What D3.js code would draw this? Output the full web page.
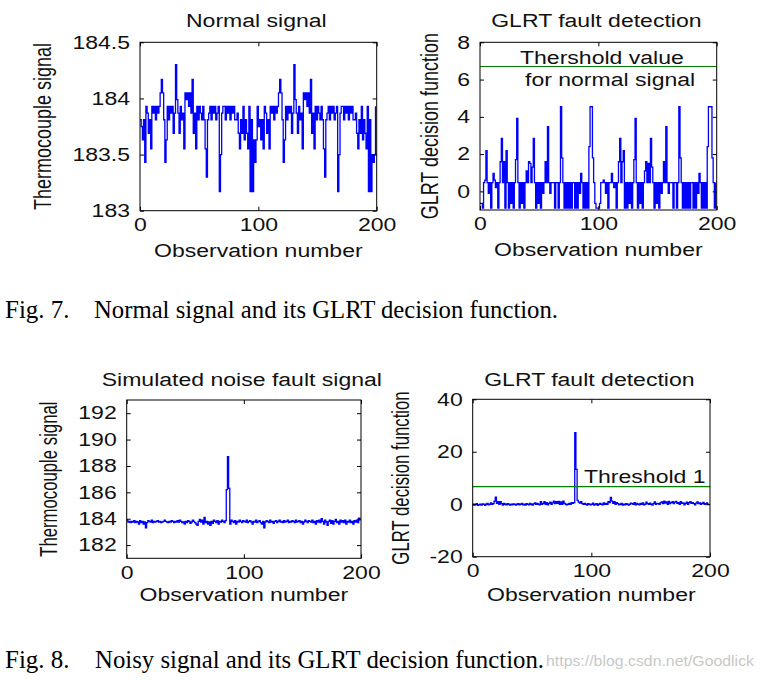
<!DOCTYPE html>
<html><head><meta charset="utf-8">
<script src="https://cdn.jsdelivr.net/npm/d3@7"></script>
<style>body{margin:0;background:#fff}</style>
</head><body>
<svg id="c" width="760" height="680"></svg>
<script>
// ---------------- data ----------------
const xTicks = [0, 100, 200];
const xDomain = [0, 200];

const normalYTicks = [183, 183.5, 184, 184.5];
const normalYDomain = [183, 184.5];
const normalSignal = [
183.81,183.75,183.63,183.81,183.43,183.93,183.87,183.69,183.81,183.55,
183.93,183.87,183.93,183.81,183.93,183.87,183.93,184.05,184.17,184.05,
183.81,183.43,183.63,183.93,183.81,183.93,183.87,183.93,183.69,183.87,
184.30,183.99,183.87,183.69,183.93,183.81,183.87,183.55,184.05,183.99,
184.05,183.93,184.05,183.87,184.17,183.69,183.87,183.55,183.93,183.81,
183.93,183.87,183.81,183.93,183.81,183.55,183.30,183.81,183.87,183.93,
183.81,183.93,183.87,183.93,183.81,183.87,183.93,183.17,183.50,183.87,
183.93,183.93,183.81,183.93,183.87,183.93,183.81,183.93,183.87,183.93,
183.81,183.81,183.87,183.69,183.55,183.81,183.69,183.93,183.63,183.81,
183.69,183.55,183.93,183.17,183.81,183.17,183.63,183.43,183.63,183.93,
183.75,183.81,183.63,183.81,183.55,183.93,183.87,183.69,183.81,183.55,
183.93,183.87,183.93,183.81,183.93,183.87,183.93,184.05,184.17,184.05,
183.81,183.43,183.63,183.93,183.81,183.93,183.87,183.93,183.69,183.87,
184.30,183.99,183.87,183.69,183.93,183.81,183.87,183.55,184.05,183.99,
184.05,183.93,184.05,183.87,184.17,183.69,183.87,183.55,183.93,183.81,
183.93,183.87,183.81,183.93,183.81,183.55,183.30,183.81,183.87,183.93,
183.81,183.93,183.87,183.93,183.81,183.87,183.93,183.17,183.50,183.87,
183.93,183.93,183.81,183.93,183.87,183.93,183.81,183.93,183.87,183.93,
183.81,183.81,183.87,183.69,183.55,183.81,183.69,183.93,183.63,183.81,
183.69,183.55,183.93,183.17,183.81,183.17,183.50,183.43,183.50,183.93
];

const glrtNormalYTicks = [0, 2, 4, 6, 8];
const glrtNormalYDomain = [-1, 8];
const glrtNormalThreshold = 6.7;
const glrtNormal = [
-0.64,-0.64,-0.9,0.47,0.6,2.18,0.47,-0.1,0.47,-0.9,
0.47,0.97,0.6,0.2,0.47,-0.9,0.47,1.59,2.84,0.47,
1.59,-0.9,2.18,0.47,-0.9,0.47,-0.64,0.47,-0.9,0.47,
1.7,3.92,0.47,-0.9,0.47,-0.64,0.47,-0.9,0.47,1.1,
0.47,1.59,1.5,0.47,1.3,2.84,0.47,-0.9,0.47,-0.64,
0.47,-0.9,0.47,-0.1,0.47,1.59,0.47,3.47,0.47,-0.1,
0.47,0.47,0.47,-0.9,0.47,0.47,-0.9,0.47,4.54,1.8,
0.47,-0.9,0.47,-0.9,0.47,-0.9,0.47,-0.9,0.47,0.47,
-0.9,0.47,-0.9,0.47,-0.1,0.97,0.47,-0.9,0.47,-0.9,
0.47,-0.9,2.4,4.54,4.54,1.8,0.47,-0.64,-0.9,-0.9,
-0.9,-0.64,0.47,0.47,0.6,0.47,-0.1,0.47,-0.9,0.47,
0.47,0.97,0.47,0.2,0.47,-0.9,0.47,1.59,2.84,0.47,
1.59,2.18,-0.9,0.47,-0.9,0.47,-0.64,0.47,-0.9,0.47,
1.7,3.92,0.47,-0.9,0.47,-0.64,0.47,-0.9,0.47,1.1,
1.59,0.47,1.5,0.47,2.84,1.3,0.47,-0.9,0.47,-0.64,
0.47,-0.9,0.47,-0.1,0.47,1.59,0.47,3.47,0.47,-0.1,
0.47,0.47,0.47,-0.9,0.47,0.47,-0.9,0.47,4.54,1.8,
0.47,-0.9,0.47,-0.9,0.47,-0.9,0.47,-0.9,0.47,0.47,
-0.9,0.47,-0.9,0.47,-0.1,0.97,0.47,-0.9,0.47,-0.9,
0.47,-0.9,2.4,4.54,4.54,4.54,1.8,0.47,-0.9,0.47
];

const noisyYTicks = [182, 184, 186, 188, 190, 192];
const noisyYDomain = [181, 193];
const noisySignal = [
183.9,183.75,183.8,183.7,183.8,183.75,183.85,183.7,183.8,183.75,
183.6,183.85,183.7,183.8,183.6,183.75,183.3,183.7,183.85,183.8,
183.75,183.9,183.7,183.8,183.75,183.8,183.85,183.75,183.8,183.7,
183.75,183.8,183.9,183.8,183.75,183.7,183.8,183.75,183.85,183.8,
183.7,183.8,183.75,183.85,183.75,183.9,183.8,183.7,183.75,183.6,
183.8,183.7,183.85,183.8,183.65,183.75,183.9,183.8,183.7,183.6,
183.5,183.8,183.95,183.75,183.9,183.6,184.1,183.7,183.8,183.6,
183.75,183.5,183.8,183.65,183.9,183.8,183.7,183.85,183.6,183.8,
183.75,183.9,183.8,183.7,183.85,186.2,188.7,186.3,183.6,183.9,
183.8,183.7,183.85,183.6,183.8,183.75,183.9,183.8,183.7,183.85,
183.8,183.75,183.9,183.7,183.8,183.85,183.75,183.6,183.8,183.75,
183.9,183.7,183.8,183.85,183.7,183.6,183.8,183.3,183.75,183.85,
183.8,183.7,183.9,183.75,183.8,183.65,183.8,183.85,183.7,183.8,
183.9,183.75,183.8,183.7,183.85,183.75,183.8,183.9,183.7,183.8,
183.75,183.85,183.8,183.7,183.9,183.75,183.8,183.85,183.7,183.8,
183.6,183.75,183.9,183.8,183.7,183.85,183.8,183.75,183.9,183.7,
183.8,183.6,183.85,183.75,183.9,183.7,184.0,183.8,183.6,183.9,
183.75,183.5,183.8,183.9,183.65,183.85,183.6,183.8,183.95,183.7,
183.8,183.6,183.9,183.75,183.85,183.7,183.9,183.6,183.8,183.75,
183.9,183.7,183.8,183.6,183.85,183.75,183.9,183.7,184.05,183.85
];

const glrtNoisyYTicks = [-20, 0, 20, 40];
const glrtNoisyYDomain = [-20, 40];
const glrtNoisyThreshold = 6.7;
const glrtNoisy = [
0,-0.3,0,0.2,-0.4,-0.2,0,-0.3,0.1,0,
-0.4,0,0.3,-0.2,0,0.5,0,0.2,1.2,2.7,
0.3,1.0,0,1.0,0.2,-0.3,0.3,0,-0.2,0.2,
0,-0.3,0,-0.2,0.1,0,-0.3,0,0.2,-0.2,
0,0.3,-0.2,0,-0.3,0.2,0,-0.2,0.3,0,
-0.3,0.1,0.5,0,0.3,0,-0.2,1.0,0,0.3,
1.0,0,0.6,-0.2,0.3,0.8,0,0.5,1.2,0.2,
1.0,0.3,1.1,0,0.9,0,1.2,0.3,0,-0.2,
0,0.3,0,0.6,0.3,0.6,27.3,13.3,1.5,0.8,
0.4,1.0,0.2,0,0.3,0,-0.3,0.2,0,-0.2,
0,0.4,-0.3,0,0.2,-0.4,0,0.3,0,-0.2,
0.5,0,0.3,0,1.0,0.6,2.6,1.2,0.3,1.0,
0,0.6,0.2,-0.2,0,0.3,-0.3,0,-0.2,0.2,
0,-0.3,0,0.4,0.2,0,0.6,-0.2,0.3,0,
-0.2,0.3,0,0.5,-0.2,0,0.8,0.2,0,0.4,
0,-0.3,0.2,0.9,0,0.3,0.2,0,0.6,0.9,
0.2,1.2,0.4,0.9,0,1.1,0.2,0.6,1.0,0.2,
0.8,1.1,0.3,0.6,0,1.0,0.3,0.5,-0.2,0.3,
0.8,0,0.6,1.0,0.3,0.6,0.2,-0.2,0.4,0.9,
0.2,0.5,0,0.3,0.7,0,0.2,0.5,0,0.2
];

// ---------------- drawing ----------------
const svg = d3.select("#c");
const SANS = "'Liberation Sans', Arial, Helvetica, sans-serif";
const SERIF = "'Liberation Serif', 'Times New Roman', serif";
const SX = 1.28;
const FS = 18;

function stretchedText(parent, x, y, str, anchor, sy, rot) {
  const g = parent.append("g")
    .attr("transform", `translate(${x},${y}) scale(${SX},${sy || 1})` + (rot ? " rotate(-90)" : ""));
  g.append("text").attr("text-anchor", anchor).attr("font-family", SANS)
    .attr("font-size", FS).attr("fill", "#111").text(str);
  return g;
}

function panel(o) {
  const x = d3.scaleLinear().domain(xDomain).range([o.l, o.r]);
  const y = d3.scaleLinear().domain(o.yDomain).range([o.b, o.t]);
  const g = svg.append("g");

  const line = d3.line().x((d, i) => x(i)).y(d => y(d)).curve(d3.curveStepAfter);
  g.append("path").datum(o.data).attr("d", line)
    .attr("fill", "none").attr("stroke", "#0000ff").attr("stroke-width", 1.3);

  if (o.threshold != null) {
    g.append("line").attr("x1", x(xDomain[0])).attr("x2", x(xDomain[1]))
      .attr("y1", y(o.threshold)).attr("y2", y(o.threshold))
      .attr("stroke", "#008000").attr("stroke-width", 1.2);
  }

  const styleAxis = a => {
    a.select(".domain").remove();
    a.attr("font-size", FS).attr("font-family", SANS).attr("color", "#000");
    a.selectAll("text").attr("fill", "#111").attr("transform", `scale(${SX},1)`);
  };
  g.append("g").attr("transform", `translate(0,${o.b})`)
    .call(d3.axisBottom(x).tickValues(xTicks).tickSizeInner(-4).tickSizeOuter(0).tickPadding(7.5))
    .call(styleAxis);
  g.append("g").attr("transform", `translate(0,${o.t})`)
    .call(d3.axisTop(x).tickValues(xTicks).tickSizeInner(-4).tickSizeOuter(0).tickFormat(() => ""))
    .call(styleAxis);
  g.append("g").attr("transform", `translate(${o.l},0)`)
    .call(d3.axisLeft(y).tickValues(o.yTicks).tickSizeInner(-4).tickSizeOuter(0).tickPadding(7.8).tickFormat(d => String(d)))
    .call(styleAxis);
  g.append("g").attr("transform", `translate(${o.r},0)`)
    .call(d3.axisRight(y).tickValues(o.yTicks).tickSizeInner(-4).tickSizeOuter(0).tickFormat(() => ""))
    .call(styleAxis);

  g.append("rect").attr("x", o.l).attr("y", o.t).attr("width", o.r - o.l).attr("height", o.b - o.t)
    .attr("fill", "none").attr("stroke", "#000").attr("stroke-width", 1);

  stretchedText(g, (o.l + o.r) / 2 - 2, o.t - o.titleGap, o.title, "middle", 1);
  stretchedText(g, (o.l + o.r) / 2, o.b + o.xlabGap, "Observation number", "middle", 1);
  stretchedText(g, o.ylabX, (o.t + o.b) / 2, o.ylabel, "middle", o.ylabSy, true);
  (o.notes || []).forEach(n => stretchedText(g, n.x, n.y, n.text, "start", 1));
}

panel({ l: 140, r: 376.7, t: 42.3, b: 210.7, yDomain: normalYDomain, yTicks: normalYTicks,
  data: normalSignal, title: "Normal signal", titleGap: 15.6, xlabGap: 46,
  ylabel: "Thermocouple signal", ylabX: 51, ylabSy: 1 });

panel({ l: 480, r: 716.7, t: 42.3, b: 210, yDomain: glrtNormalYDomain, yTicks: glrtNormalYTicks,
  data: glrtNormal, threshold: glrtNormalThreshold, title: "GLRT fault detection", titleGap: 15.6, xlabGap: 45.5,
  ylabel: "GLRT decision function", ylabX: 437.5, ylabSy: 1,
  notes: [{ x: 520, y: 64.3, text: "Thershold value" }, { x: 525, y: 86, text: "for normal signal" }] });

panel({ l: 126.7, r: 361, t: 400, b: 558.3, yDomain: noisyYDomain, yTicks: noisyYTicks,
  data: noisySignal, title: "Simulated noise fault signal", titleGap: 14, xlabGap: 42.4,
  ylabel: "Thermocouple signal", ylabX: 57, ylabSy: 0.93 });

panel({ l: 472.7, r: 710, t: 399.3, b: 556.7, yDomain: glrtNoisyYDomain, yTicks: glrtNoisyYTicks,
  data: glrtNoisy, threshold: glrtNoisyThreshold, title: "GLRT fault detection", titleGap: 13.3, xlabGap: 44,
  ylabel: "GLRT decision function", ylabX: 408.5, ylabSy: 0.93,
  notes: [{ x: 584, y: 482.7, text: "Threshold 1" }] });

// captions
function caption(y, label, text, textLen) {
  svg.append("text").attr("x", 5).attr("y", y).attr("font-family", SERIF).attr("font-size", 25)
    .attr("fill", "#000").text(label);
  svg.append("text").attr("x", label === "Fig. 7." ? 94 : 95).attr("y", y).attr("font-family", SERIF)
    .attr("font-size", 25).attr("fill", "#000")
    .attr("textLength", textLen).attr("lengthAdjust", "spacingAndGlyphs").text(text);
}
caption(318, "Fig. 7.", "Normal signal and its GLRT decision function.", 464);
caption(668, "Fig. 8.", "Noisy signal and its GLRT decision function.", 449);
svg.append("text").attr("x", 546).attr("y", 666).attr("font-family", SANS).attr("font-size", 15)
  .attr("fill", "#c8c8c8").attr("textLength", 208).attr("lengthAdjust", "spacingAndGlyphs")
  .text("https://blog.csdn.net/Goodlick");
</script>
</body></html>
